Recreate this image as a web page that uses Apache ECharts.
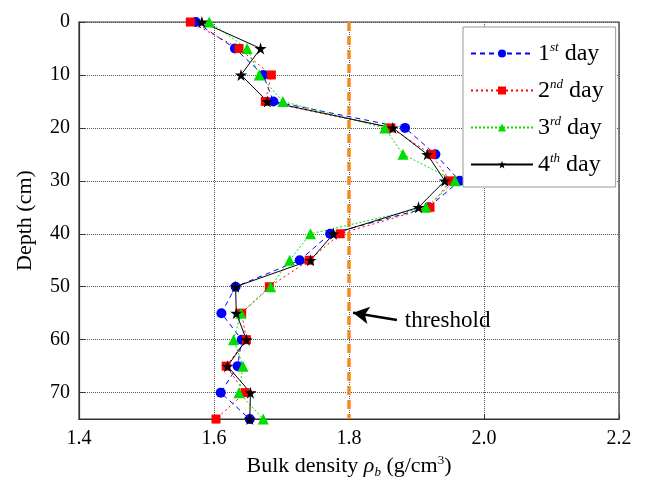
<!DOCTYPE html>
<html>
<head>
<meta charset="utf-8">
<script src="https://cdn.jsdelivr.net/npm/echarts@6/dist/echarts.min.js"></script>
<style>
  html, body { margin: 0; padding: 0; background: #fff; }
</style>
</head>
<body>
<!-- chart container -->
<div id="main" style="width: 645px;height:484px;"></div>
<script>
// depth (cm)
var depth = [0, 5, 10, 15, 20, 25, 30, 35, 40, 45, 50, 55, 60, 65, 70, 75];
// bulk density for each day (g/cm3)
var day1 = [1.573, 1.631, 1.673, 1.688, 1.883, 1.928, 1.964, 1.918, 1.772, 1.727, 1.632, 1.611, 1.641, 1.635, 1.610, 1.653];
var day2 = [1.565, 1.637, 1.685, 1.676, 1.862, 1.922, 1.950, 1.920, 1.787, 1.741, 1.682, 1.641, 1.648, 1.618, 1.646, 1.603];
var day3 = [1.593, 1.649, 1.667, 1.702, 1.853, 1.880, 1.957, 1.914, 1.743, 1.712, 1.684, 1.640, 1.629, 1.643, 1.637, 1.673];
var day4 = [1.582, 1.669, 1.640, 1.679, 1.865, 1.916, 1.942, 1.903, 1.777, 1.743, 1.632, 1.633, 1.648, 1.620, 1.654, 1.653];
var threshold = 1.8;
var seriesNames = ['1st day', '2nd day', '3rd day', '4th day'];
var xTicks = [1.4, 1.6, 1.8, 2.0, 2.2];
var yTicks = [0, 10, 20, 30, 40, 50, 60, 70];

var FONT = '"Liberation Serif", "Times New Roman", serif';
var STAR = 'path://M50,0 L61,35 L98,35 L68,57 L79,91 L50,70 L21,91 L32,57 L2,35 L39,35 Z';

function pairs(vals) {
  return vals.map(function (v, i) { return [v, depth[i]]; });
}

function daySeries(name, vals, color, type, symbol, size) {
  return {
    name: name,
    type: 'line',
    data: pairs(vals),
    symbol: symbol,
    symbolSize: size,
    showAllSymbol: true,
    itemStyle: { color: color },
    lineStyle: { color: color, width: 1, type: type },
    z: 3
  };
}

var myChart = echarts.init(document.getElementById('main'));

var option = {
  animation: false,
  textStyle: { fontFamily: FONT },
  grid: {
    left: 79, top: 22, right: 26, bottom: 61,
    show: true, borderColor: '#333', borderWidth: 1.2, backgroundColor: 'transparent'
  },
  legend: {
    data: seriesNames,
    orient: 'vertical',
    left: 463, top: 27,
    padding: [14, 12, 10, 7],
    itemGap: 12,
    itemWidth: 62,
    itemHeight: 10,
    backgroundColor: '#fff',
    borderColor: '#999',
    borderWidth: 1,
    formatter: function (name) {
      var parts = name.split(' ');
      var n = parts[0].charAt(0);
      var sup = parts[0].slice(1);
      return n + '{sup|' + sup + '} ' + parts[1];
    },
    textStyle: {
      fontFamily: FONT, fontSize: 24, color: '#000', lineHeight: 25,
      rich: {
        sup: { fontFamily: FONT, fontSize: 13, fontStyle: 'italic', verticalAlign: 'top', lineHeight: 13 }
      }
    }
  },
  xAxis: {
    type: 'value',
    min: 1.4, max: 2.2, interval: 0.2,
    name: '{n|Bulk density }{i|ρ}{sub|b}{n| (g/cm}{sup|3}{n|)}',
    nameLocation: 'middle',
    nameGap: 30,
    nameTextStyle: {
      rich: {
        n: { fontFamily: FONT, fontSize: 22, color: '#000' },
        i: { fontFamily: FONT, fontSize: 22, fontStyle: 'italic', color: '#000' },
        sub: { fontFamily: FONT, fontSize: 13, fontStyle: 'italic', color: '#000', verticalAlign: 'bottom', padding: [12, 0, 0, 0] },
        sup: { fontFamily: FONT, fontSize: 13, color: '#000', verticalAlign: 'top', padding: [0, 0, 8, 0] }
      }
    },
    axisLine: { show: true, onZero: false, lineStyle: { color: '#333', width: 1.2 } },
    axisTick: { show: true, inside: true, length: 5, lineStyle: { color: '#333' } },
    axisLabel: {
      fontFamily: FONT, fontSize: 20, color: '#000', margin: 10,
      formatter: function (v) { return v.toFixed(1); },
      customValues: xTicks
    },
    splitLine: { show: true, lineStyle: { color: '#555', type: [1, 1], width: 1 } }
  },
  yAxis: {
    type: 'value',
    inverse: true,
    min: 0, max: 75, interval: 10,
    name: 'Depth (cm)',
    nameLocation: 'middle',
    nameGap: 43,
    nameTextStyle: { fontFamily: FONT, fontSize: 22, color: '#000' },
    axisLine: { show: true, onZero: false, lineStyle: { color: '#333', width: 1.2 } },
    axisTick: { show: true, inside: true, length: 6, lineStyle: { color: '#333' }, customValues: yTicks },
    axisLabel: { fontFamily: FONT, fontSize: 20, color: '#000', margin: 9, customValues: yTicks },
    splitLine: { show: true, lineStyle: { color: '#555', type: [1, 1], width: 1 } }
  },
  series: [
    {
      name: 'threshold',
      type: 'line',
      data: [[threshold, 0], [threshold, 75]],
      symbol: 'none',
      lineStyle: { color: '#f58a1f', width: 3.5, type: [9, 5] },
      z: 2,
      markLine: {
        silent: true,
        symbol: ['arrow', 'none'],
        symbolSize: [13, 16],
        lineStyle: { color: '#000', width: 2.5, type: 'solid' },
        label: {
          show: true, position: 'end', distance: 8,
          formatter: 'threshold',
          fontFamily: FONT, fontSize: 23, color: '#000'
        },
        data: [[{ coord: [1.806, 54.9] }, { coord: [1.871, 56.3] }]]
      }
    },
    daySeries(seriesNames[0], day1, '#0000ff', [5, 4], 'circle', 10),
    daySeries(seriesNames[1], day2, '#ff0000', [2, 3], 'rect', 9),
    daySeries(seriesNames[2], day3, '#00dd00', [2, 2], 'triangle', 11),
    daySeries(seriesNames[3], day4, '#000000', 'solid', STAR, 12)
  ]
};

myChart.setOption(option);
</script>
</body>
</html>
